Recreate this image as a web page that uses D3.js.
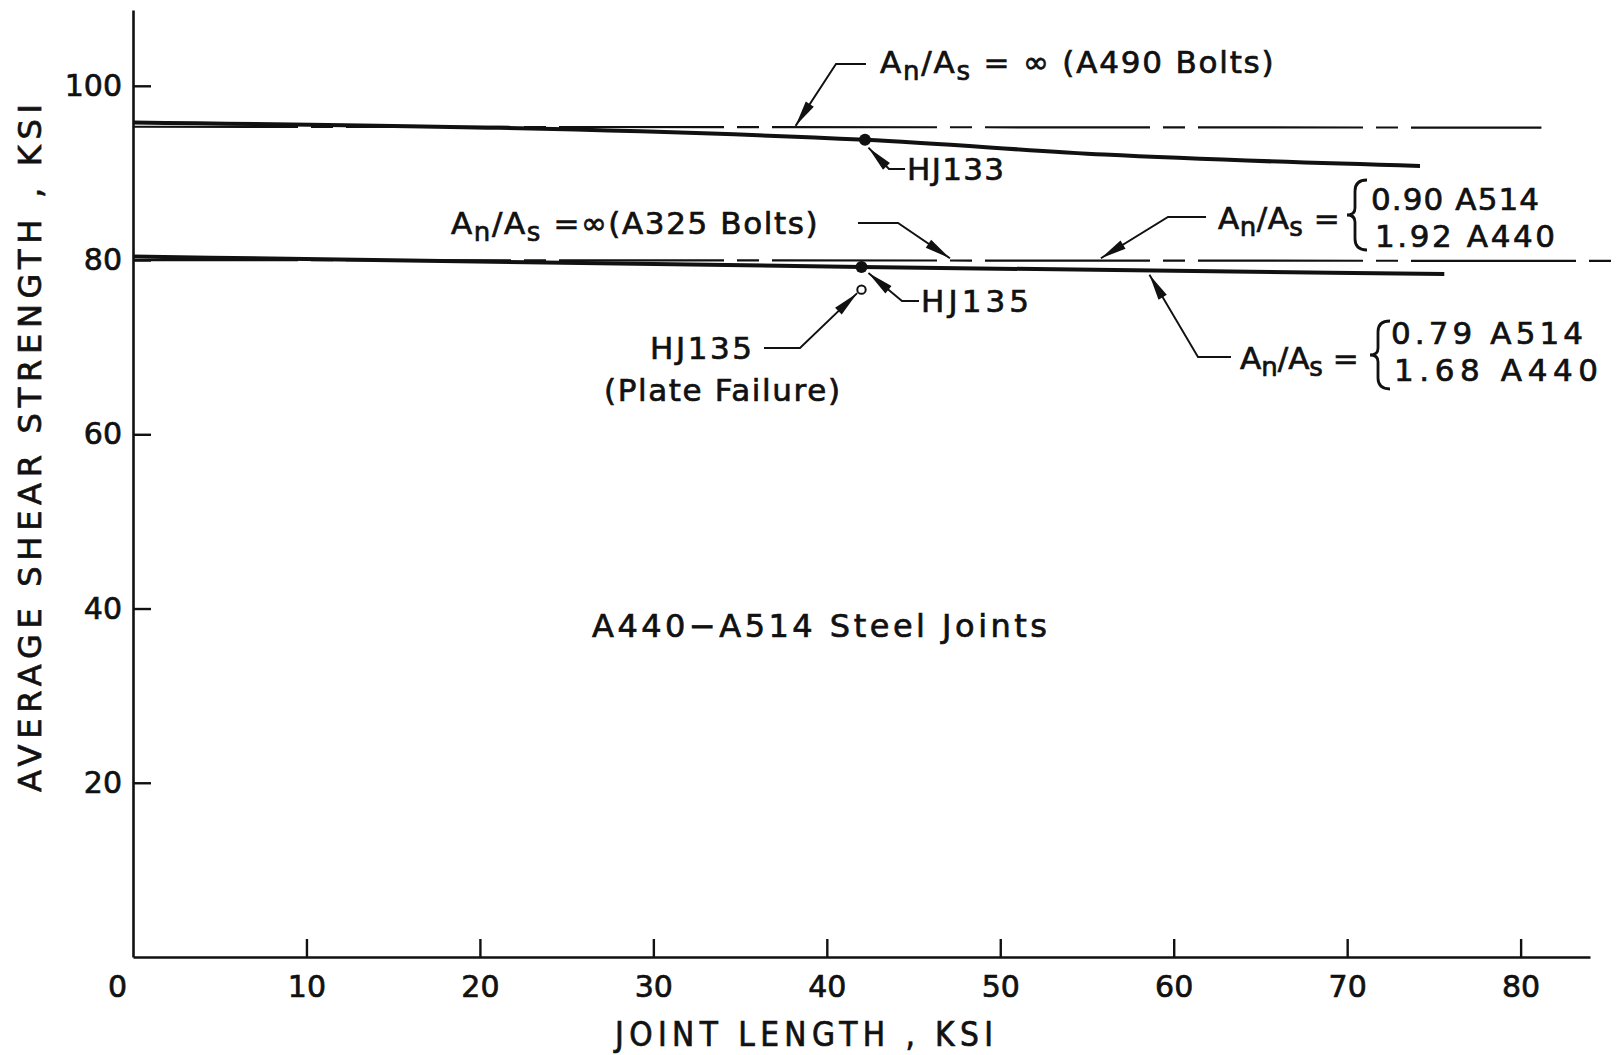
<!DOCTYPE html>
<html lang="en">

<head>
    <meta charset="UTF-8">
    <title>Average Shear Strength vs Joint Length</title>
    <style>
        body {
            margin: 0;
            padding: 0;
            background: #fff;
            overflow: hidden;
        }

        text {
            font-family: "DejaVu Sans", sans-serif;
            fill: #111;
            stroke: #111;
            stroke-width: 0.7px;
        }
    </style>
</head>

<body>
    <script src="https://d3js.org/d3.v7.min.js"></script>
    <script>
        // Chart values
        const xTicks = [0, 10, 20, 30, 40, 50, 60, 70, 80];
        const yTicks = [20, 40, 60, 80, 100];

        // A490 bolts, test curve (solid) and An/As = infinity line (dash-dot)
        const a490Curve = [[0, 95.8], [42.2, 93.8], [56, 92.1], [74.2, 90.8]];
        const a490Limit = [[0, 95.3], [81.2, 95.2]];

        // A325 bolts, test curve (solid) and An/As = infinity line (dash-dot)
        const a325Curve = [[0, 80.4], [42, 79.2], [75.6, 78.4]];
        const a325Limit = [[0, 80.0], [86, 79.9]];

        // test points
        const solidPoints = [
            { name: "HJ133", x: 42.2, y: 93.8 },
            { name: "HJ135", x: 42.0, y: 79.2 }
        ];
        const openPoints = [
            { name: "HJ135 (Plate Failure)", x: 42.0, y: 76.6 }
        ];

        const width = 1623;
        const height = 1055;

        const svg = d3.select("body").append("svg")
            .attr("width", width)
            .attr("height", height);

        // arrow head for the leader lines
        svg.append("defs").append("marker")
            .attr("id", "arrow")
            .attr("viewBox", "-28 -6 30 12")
            .attr("refX", 0)
            .attr("refY", 0)
            .attr("markerWidth", 30)
            .attr("markerHeight", 12)
            .attr("markerUnits", "userSpaceOnUse")
            .attr("orient", "auto")
            .append("path")
            .attr("d", "M0,0 L-26,-4.8 L-26,4.8 Z")
            .attr("fill", "#111");

        const x = d3.scaleLinear().domain([0, 84]).range([133, 1590]);
        const y = d3.scaleLinear().domain([0, 108.7]).range([957, 10]);

        // axes
        const yAxis = svg.append("g")
            .attr("transform", `translate(${x(0)},0)`)
            .call(d3.axisLeft(y).tickValues(yTicks).tickSize(-18).tickSizeOuter(0).tickPadding(11));

        const xAxis = svg.append("g")
            .attr("transform", `translate(0,${y(0)})`)
            .call(d3.axisBottom(x).tickValues(xTicks).tickSize(-18).tickSizeOuter(0).tickPadding(19)
                .tickFormat(d3.format("d")));

        [yAxis, xAxis].forEach(g => {
            g.select(".domain").attr("stroke", "#111").attr("stroke-width", 2.6);
            g.selectAll(".tick line").attr("stroke", "#111").attr("stroke-width", 2.4);
            g.selectAll(".tick text")
                .attr("fill", "#111")
                .style("font-family", "DejaVu Sans, sans-serif")
                .style("font-size", "30px");
        });

        // the 0 sits left of the corner, no tick line there
        xAxis.selectAll(".tick").filter(d => d === 0).select("line").remove();
        xAxis.selectAll(".tick").filter(d => d === 0).select("text").attr("x", -16);

        // axis titles
        svg.append("text")
            .attr("transform", "translate(41,448) rotate(-90)")
            .attr("text-anchor", "middle")
            .attr("font-size", 32)
            .attr("textLength", 688)
            .attr("lengthAdjust", "spacing")
            .text("AVERAGE SHEAR STRENGTH , KSI");

        svg.append("text")
            .attr("x", 615)
            .attr("y", 1046)
            .attr("font-size", 33)
            .style("font-family", "DejaVu Sans Condensed, DejaVu Sans, sans-serif")
            .attr("textLength", 378)
            .attr("lengthAdjust", "spacing")
            .text("JOINT  LENGTH , KSI");

        // curves
        const line = d3.line()
            .x(d => x(d[0]))
            .y(d => y(d[1]))
            .curve(d3.curveMonotoneX);

        [a490Curve, a325Curve].forEach(c => {
            svg.append("path")
                .attr("d", line(c))
                .attr("fill", "none")
                .attr("stroke", "#111")
                .attr("stroke-width", 4);
        });

        [a490Limit, a325Limit].forEach(c => {
            svg.append("path")
                .attr("d", d3.line().x(d => x(d[0])).y(d => y(d[1]))(c))
                .attr("fill", "none")
                .attr("stroke", "#111")
                .attr("stroke-width", 2.2)
                .attr("stroke-dasharray", "165,13,22,13");
        });

        // test points
        svg.selectAll(".solid-pt")
            .data(solidPoints)
            .enter().append("circle")
            .attr("class", "solid-pt")
            .attr("cx", d => x(d.x))
            .attr("cy", d => y(d.y))
            .attr("r", 6)
            .attr("fill", "#111");

        svg.selectAll(".open-pt")
            .data(openPoints)
            .enter().append("circle")
            .attr("class", "open-pt")
            .attr("cx", d => x(d.x))
            .attr("cy", d => y(d.y))
            .attr("r", 4.2)
            .attr("fill", "#fff")
            .attr("stroke", "#111")
            .attr("stroke-width", 2);

        // leader: text end -> elbow -> arrow tip (tip given in data units)
        const leader = (px, py, ex, ey, tip) => {
            svg.append("path")
                .attr("d", `M${px},${py} L${ex},${ey} L${x(tip[0])},${y(tip[1])}`)
                .attr("fill", "none")
                .attr("stroke", "#111")
                .attr("stroke-width", 1.9)
                .attr("marker-end", "url(#arrow)");
        };

        // "An/As" with subscripts followed by some text
        const ratioLabel = (px, py, rest, spacing) => {
            const t = svg.append("text")
                .attr("x", px)
                .attr("y", py)
                .attr("font-size", 31)
                .style("letter-spacing", spacing + "px");
            t.append("tspan").text("A");
            t.append("tspan").attr("dy", 7).attr("font-size", 26).text("n");
            t.append("tspan").attr("dy", -7).text("/A");
            t.append("tspan").attr("dy", 7).attr("font-size", 26).text("s");
            t.append("tspan").attr("dy", -7).text(rest);
            return t;
        };

        const plain = (px, py, str, size, len, anchor) => {
            const t = svg.append("text")
                .attr("x", px)
                .attr("y", py)
                .attr("font-size", size)
                .attr("text-anchor", anchor || "start")
                .text(str);
            if (len) t.attr("textLength", len).attr("lengthAdjust", "spacing");
            return t;
        };

        // brace for the two-line values
        const brace = (bx, top, bot, w) => {
            const mid = (top + bot) / 2;
            const h = bot - top;
            const c = bx + w * 0.4;
            svg.append("path")
                .attr("d", `M${bx + w},${top} Q${c},${top} ${c},${top + h * 0.16} L${c},${mid - h * 0.1} ` +
                    `Q${c},${mid} ${bx},${mid} Q${c},${mid} ${c},${mid + h * 0.1} ` +
                    `L${c},${bot - h * 0.16} Q${c},${bot} ${bx + w},${bot}`)
                .attr("fill", "none")
                .attr("stroke", "#111")
                .attr("stroke-width", 2.8);
        };

        // A490 infinity line
        ratioLabel(880, 73, " = \u221E (A490 Bolts)", 1.8);
        leader(866, 64, 836, 64, [38.2, 95.4]);

        // HJ133
        plain(907, 180, "HJ133", 31, 97);
        leader(905, 169, 889, 169, [42.4, 92.9]);

        // A325 infinity line
        ratioLabel(451, 234, " =\u221E(A325 Bolts)", 1.6);
        leader(858, 223, 898, 223, [47.1, 80.2]);

        // 0.90 / 1.92
        ratioLabel(1218, 229, " =", 0.5);
        brace(1347, 180, 250, 20);
        plain(1371, 210, "0.90 A514", 31, 168);
        plain(1375, 247, "1.92 A440", 31, 180);
        leader(1206, 217, 1168, 217, [55.8, 80.2]);

        // 0.79 / 1.68
        ratioLabel(1240, 369, " =", 0);
        brace(1370, 321, 389, 20);
        plain(1391, 344, "0.79 A514", 31, 192);
        plain(1394, 381, "1.68 A440", 31, 204);
        leader(1231, 357, 1198, 357, [58.6, 78.3]);

        // HJ135 solid point
        plain(921, 312, "HJ135", 31, 108);
        leader(919, 301, 902, 301, [42.4, 78.5]);

        // HJ135 plate failure
        plain(650, 359, "HJ135", 31, 102);
        plain(604, 401, "(Plate Failure)", 31, 236);
        leader(764, 348, 800, 348, [41.75, 76.2]);

        // joint type note
        plain(592, 637, "A440\u2212A514  Steel  Joints", 32, 455);
    </script>
</body>

</html>
